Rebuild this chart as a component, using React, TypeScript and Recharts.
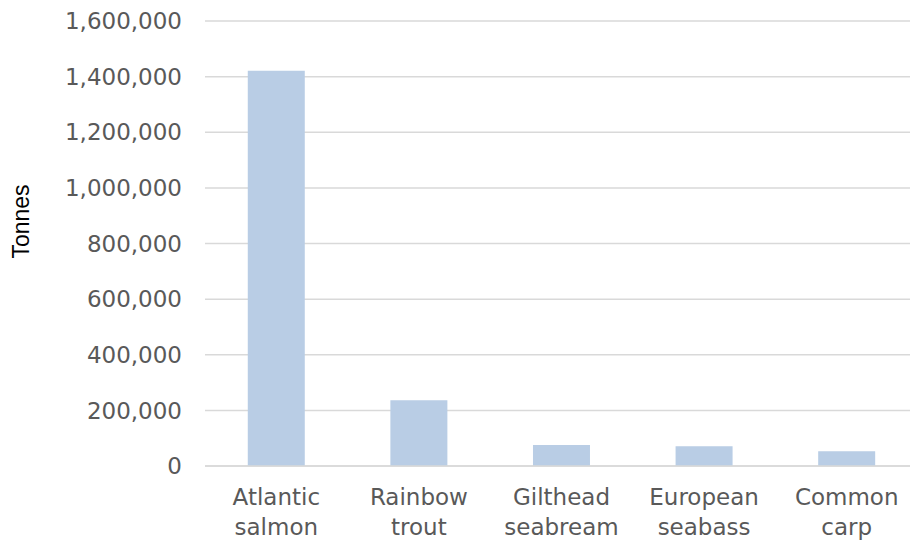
import { Bar, BarChart, CartesianGrid, XAxis, YAxis } from 'recharts';

const categories = ['Atlantic salmon', 'Rainbow trout', 'Gilthead seabream', 'European seabass', 'Common carp'];
const tonnes = [1421000, 236000, 75500, 71000, 53000];
const yTicks = [0, 200000, 400000, 600000, 800000, 1000000, 1200000, 1400000, 1600000];

const data = categories.map((name, i) => ({ name, tonnes: tonnes[i] }));

const font = '"DejaVu Sans", Verdana, sans-serif';

function CategoryTick(props: any) {
  const { x, y, payload } = props;
  const words = String(payload.value).split(' ');
  return (
    <text x={x} y={y} textAnchor="middle" fill="#595959" fontSize={23} fontFamily={font}>
      {words.map((w, i) => (
        <tspan key={i} x={x} dy={i === 0 ? 31 : 30}>
          {w}
        </tspan>
      ))}
    </text>
  );
}

// rotated axis title, sits a bit above the plot's middle like the original
function AxisTitle(props: any) {
  const { viewBox } = props;
  const cx = viewBox.x + 29;
  const cy = viewBox.y + viewBox.height / 2 - 22;
  return (
    <text
      x={cx}
      y={cy}
      transform={`rotate(-90, ${cx}, ${cy})`}
      textAnchor="middle"
      fill="#000"
      fontSize={23}
      fontFamily='"Liberation Sans", Arial, sans-serif'
    >
      Tonnes
    </text>
  );
}

export default function App() {
  return (
    <div style={{ position: 'fixed', left: 0, top: 0, width: 910, height: 543, overflow: 'hidden', background: '#fff' }}>
      <BarChart
        width={918}
        height={543}
        data={data}
        margin={{ top: 21, right: 0, bottom: 0, left: 0 }}
        barCategoryGap="30%"
      >
        <CartesianGrid vertical={false} stroke="#d9d9d9" strokeWidth={1.5} />
        <XAxis
          dataKey="name"
          height={77}
          axisLine={{ stroke: '#d9d9d9', strokeWidth: 1.5 }}
          tickLine={false}
          interval={0}
          tick={<CategoryTick />}
        />
        <YAxis
          width={205}
          domain={[0, 1600000]}
          ticks={yTicks}
          axisLine={false}
          tickLine={false}
          tickMargin={17}
          tickFormatter={(v: number) => v.toLocaleString('en-US')}
          tick={{ fill: '#595959', fontSize: 23, fontFamily: font }}
          label={<AxisTitle />}
        />
        <Bar dataKey="tonnes" fill="#b9cde5" isAnimationActive={false} />
      </BarChart>
    </div>
  );
}
